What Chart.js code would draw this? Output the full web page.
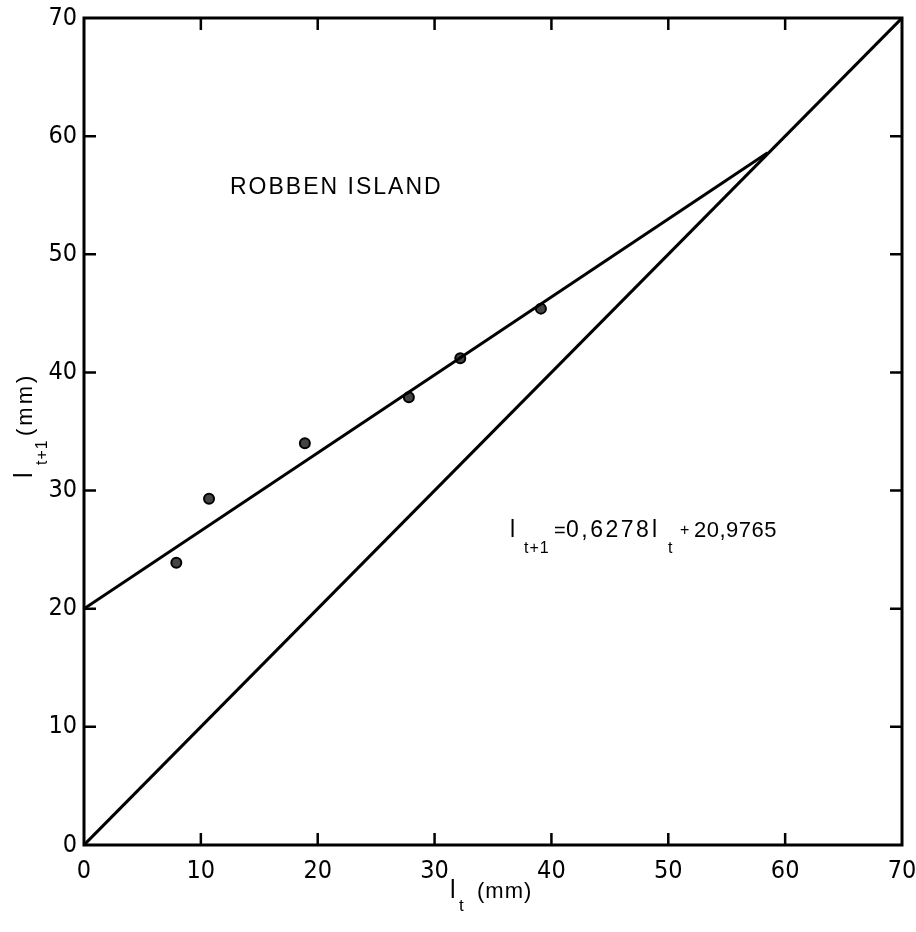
<!DOCTYPE html>
<html>
<head>
<meta charset="utf-8">
<script src="https://cdn.jsdelivr.net/npm/chart.js@4.4.1/dist/chart.umd.min.js"></script>
<style>
  html, body { margin: 0; padding: 0; background: #fff; }
  canvas { display: block; }
</style>
</head>
<body>
<canvas id="myChart" width="916" height="932"></canvas>
<script>
// observed lengths: l(t) against l(t+1)
const lengthT = [7.9, 10.7, 18.9, 27.8, 32.2, 39.1];
const lengthNext = [23.9, 29.3, 34.0, 37.9, 41.2, 45.4];

// fitted line and the 1:1 line, as end points
const fitX = [0, 58.5];
const fitY = [20, 58.6];
const diagX = [0, 70];
const diagY = [0, 70];

const tickValues = [0, 10, 20, 30, 40, 50, 60, 70];

const FONT = '"Liberation Sans", Arial, sans-serif';
const NARROW = '"Liberation Sans Narrow", "DejaVu Sans Condensed", sans-serif';

function toPoints(xs, ys) {
  return xs.map(function (x, i) { return { x: x, y: ys[i] }; });
}

// draw a list of [text, size, x, dy, spacing] pieces on one baseline
function drawPieces(ctx, pieces, base) {
  pieces.forEach(function (p) {
    ctx.font = p[1] + 'px ' + FONT;
    ctx.letterSpacing = (p[4] || 0) + 'px';
    ctx.fillText(p[0], p[2], base + p[3]);
  });
  ctx.letterSpacing = '0px';
}

// frame, inward ticks and the text inside the plot
const decorations = {
  id: 'decorations',
  afterDraw: function (chart) {
    const ctx = chart.ctx;
    const area = chart.chartArea;
    const xs = chart.scales.x;
    const ys = chart.scales.y;

    ctx.save();
    ctx.strokeStyle = '#000';
    ctx.lineWidth = 3;
    ctx.strokeRect(area.left, area.top, area.right - area.left, area.bottom - area.top);

    ctx.lineWidth = 2.5;
    const len = 12;
    tickValues.slice(1, -1).forEach(function (v) {
      const px = xs.getPixelForValue(v);
      const py = ys.getPixelForValue(v);
      ctx.beginPath();
      ctx.moveTo(px, area.bottom); ctx.lineTo(px, area.bottom - len);
      ctx.moveTo(px, area.top); ctx.lineTo(px, area.top + len);
      ctx.moveTo(area.left, py); ctx.lineTo(area.left + len, py);
      ctx.moveTo(area.right, py); ctx.lineTo(area.right - len, py);
      ctx.stroke();
    });

    ctx.fillStyle = '#000';
    ctx.textBaseline = 'alphabetic';
    ctx.textAlign = 'left';

    // title inside the plot
    ctx.font = '23px ' + FONT;
    ctx.letterSpacing = '2px';
    ctx.fillText('ROBBEN ISLAND', 230, 194);
    ctx.letterSpacing = '0px';

    // regression equation with subscripts
    drawPieces(ctx, [
      ['l', 23, 510, 0], ['t+1', 16, 524, 16, 1], ['=', 20, 554, 0],
      ['0,6278', 23, 566, 0, 2.5], ['l', 23, 652, 0], ['t', 16, 668, 16],
      ['+', 16, 680, -2], ['20,9765', 22, 694, 0, 0.5]
    ], 537);

    // x axis title
    drawPieces(ctx, [
      ['l', 25, 450, 0], ['t', 17, 459, 13], ['(mm)', 22, 477, 0, 1]
    ], 898);

    // y axis title, rotated
    ctx.translate(32, 478);
    ctx.rotate(-Math.PI / 2);
    drawPieces(ctx, [
      ['l', 25, 0, 0], ['t+1', 16, 13, 15, 1], ['(mm)', 22, 42, 0, 3]
    ], 0);
    ctx.restore();
  }
};

const data = {
  datasets: [
    {
      label: 'fit',
      type: 'line',
      data: toPoints(fitX, fitY),
      borderColor: '#000',
      borderWidth: 3,
      pointRadius: 0,
      fill: false,
    },
    {
      label: '1:1',
      type: 'line',
      data: toPoints(diagX, diagY),
      borderColor: '#000',
      borderWidth: 3,
      pointRadius: 0,
      fill: false,
    },
    {
      label: 'observed',
      data: toPoints(lengthT, lengthNext),
      pointRadius: 5,
      pointBackgroundColor: '#444',
      pointBorderColor: '#000',
      pointBorderWidth: 2,
    },
  ],
};

const config = {
  type: 'scatter',
  data: data,
  options: {
    responsive: false,
    animation: false,
    devicePixelRatio: 1,
    layout: {
      padding: { top: 18, right: 14, bottom: 0, left: 0 },
    },
    plugins: {
      legend: { display: false },
      tooltip: { enabled: false },
    },
    scales: {
      x: {
        type: 'linear',
        min: 0,
        max: 70,
        afterFit: function (scale) {
          scale.height = 87;
          scale.paddingLeft = 0;
          scale.paddingRight = 0;
        },
        afterBuildTicks: function (scale) {
          scale.ticks = tickValues.map(function (v) { return { value: v }; });
        },
        grid: { display: false, drawTicks: false },
        border: { display: false },
        ticks: {
          color: '#000',
          padding: 11,
          maxRotation: 0,
          font: { family: NARROW, size: 25 },
        },
      },
      y: {
        type: 'linear',
        min: 0,
        max: 70,
        afterFit: function (scale) {
          scale.width = 84;
          scale.paddingTop = 0;
          scale.paddingBottom = 0;
        },
        afterBuildTicks: function (scale) {
          scale.ticks = tickValues.map(function (v) { return { value: v }; });
        },
        grid: { display: false, drawTicks: false },
        border: { display: false },
        ticks: {
          color: '#000',
          padding: 7,
          font: { family: NARROW, size: 25 },
        },
      },
    },
  },
  plugins: [decorations],
};

var ctx = document.getElementById('myChart');
var myChart = new Chart(ctx, config);
</script>
</body>
</html>
